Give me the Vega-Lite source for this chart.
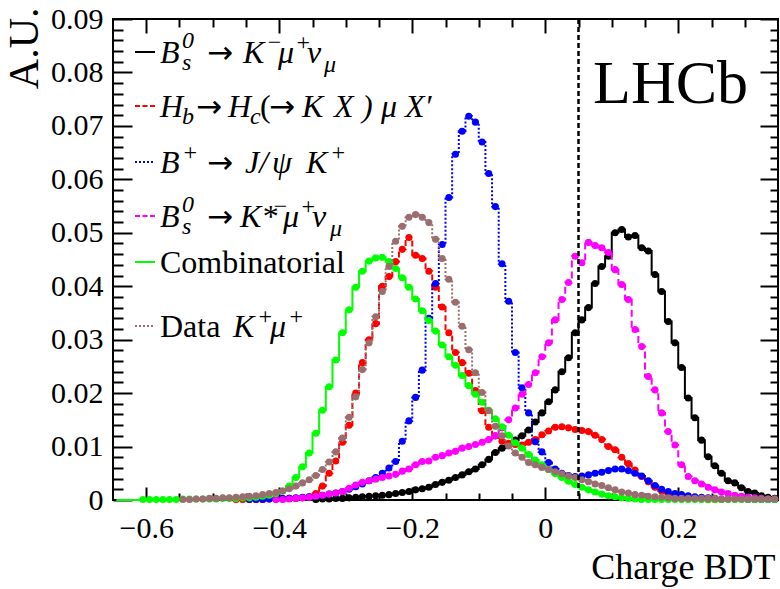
{
  "$schema": "https://vega.github.io/schema/vega-lite/v6.json",
  "width": 665,
  "height": 481,
  "autosize": {"type": "none"},
  "padding": {"left": 113, "top": 19, "right": 2, "bottom": 89},
  "background": "white",
  "config": {
    "view": {"stroke": "#000000", "strokeWidth": 2},
    "style": {
      "lg": {"font": "Liberation Serif", "fontSize": 32, "fontStyle": "italic", "align": "left", "baseline": "alphabetic", "fill": "#000000"},
      "lgs": {"font": "Liberation Serif", "fontSize": 24, "fontStyle": "italic", "align": "left", "baseline": "alphabetic", "fill": "#000000"},
      "arr": {"font": "DejaVu Sans", "fontSize": 31, "fontStyle": "normal", "align": "left", "baseline": "alphabetic", "fill": "#000000"}
    }
  },
  "data": {"values": [{}]},
  "datasets": {
    "sig": [
      {"bdt": -0.345, "au": 0.0001}, {"bdt": -0.335, "au": 0.0002}, {"bdt": -0.325, "au": 0.0002}, {"bdt": -0.315, "au": 0.0003},
      {"bdt": -0.305, "au": 0.0003}, {"bdt": -0.295, "au": 0.0004}, {"bdt": -0.285, "au": 0.0005}, {"bdt": -0.275, "au": 0.0006},
      {"bdt": -0.265, "au": 0.0007}, {"bdt": -0.255, "au": 0.0008}, {"bdt": -0.245, "au": 0.0009}, {"bdt": -0.235, "au": 0.0010},
      {"bdt": -0.225, "au": 0.0012}, {"bdt": -0.215, "au": 0.0014}, {"bdt": -0.205, "au": 0.0016}, {"bdt": -0.195, "au": 0.0019},
      {"bdt": -0.185, "au": 0.0021}, {"bdt": -0.175, "au": 0.0024}, {"bdt": -0.165, "au": 0.0029}, {"bdt": -0.155, "au": 0.0033},
      {"bdt": -0.145, "au": 0.0037}, {"bdt": -0.135, "au": 0.0042}, {"bdt": -0.125, "au": 0.0047}, {"bdt": -0.115, "au": 0.0053},
      {"bdt": -0.105, "au": 0.0058}, {"bdt": -0.095, "au": 0.0066}, {"bdt": -0.085, "au": 0.0076}, {"bdt": -0.075, "au": 0.0089},
      {"bdt": -0.065, "au": 0.0097}, {"bdt": -0.055, "au": 0.0103}, {"bdt": -0.045, "au": 0.0112}, {"bdt": -0.035, "au": 0.0120},
      {"bdt": -0.025, "au": 0.0131}, {"bdt": -0.015, "au": 0.0146}, {"bdt": -0.005, "au": 0.0163}, {"bdt": 0.005, "au": 0.0184},
      {"bdt": 0.015, "au": 0.0206}, {"bdt": 0.025, "au": 0.0240}, {"bdt": 0.035, "au": 0.0266}, {"bdt": 0.045, "au": 0.0313},
      {"bdt": 0.055, "au": 0.0337}, {"bdt": 0.065, "au": 0.0360}, {"bdt": 0.075, "au": 0.0405}, {"bdt": 0.085, "au": 0.0437},
      {"bdt": 0.095, "au": 0.0456}, {"bdt": 0.105, "au": 0.0500}, {"bdt": 0.115, "au": 0.0506}, {"bdt": 0.125, "au": 0.0492},
      {"bdt": 0.135, "au": 0.0495}, {"bdt": 0.145, "au": 0.0472}, {"bdt": 0.155, "au": 0.0466}, {"bdt": 0.165, "au": 0.0422},
      {"bdt": 0.175, "au": 0.0390}, {"bdt": 0.185, "au": 0.0334}, {"bdt": 0.195, "au": 0.0294}, {"bdt": 0.205, "au": 0.0248},
      {"bdt": 0.215, "au": 0.0191}, {"bdt": 0.225, "au": 0.0154}, {"bdt": 0.235, "au": 0.0112}, {"bdt": 0.245, "au": 0.0081},
      {"bdt": 0.255, "au": 0.0064}, {"bdt": 0.265, "au": 0.0050}, {"bdt": 0.275, "au": 0.0036}, {"bdt": 0.285, "au": 0.0032},
      {"bdt": 0.295, "au": 0.0023}, {"bdt": 0.305, "au": 0.0016}, {"bdt": 0.315, "au": 0.0013}, {"bdt": 0.325, "au": 0.0008},
      {"bdt": 0.335, "au": 0.0005}, {"bdt": 0.345, "au": 0.0003}
    ],
    "hb": [
      {"bdt": -0.465, "au": 0.0001}, {"bdt": -0.455, "au": 0.0001}, {"bdt": -0.445, "au": 0.0001}, {"bdt": -0.435, "au": 0.0001},
      {"bdt": -0.425, "au": 0.0001}, {"bdt": -0.415, "au": 0.0002}, {"bdt": -0.405, "au": 0.0002}, {"bdt": -0.395, "au": 0.0002},
      {"bdt": -0.385, "au": 0.0003}, {"bdt": -0.375, "au": 0.0003}, {"bdt": -0.365, "au": 0.0004}, {"bdt": -0.355, "au": 0.0006},
      {"bdt": -0.345, "au": 0.0012}, {"bdt": -0.335, "au": 0.0026}, {"bdt": -0.325, "au": 0.0050}, {"bdt": -0.315, "au": 0.0073},
      {"bdt": -0.305, "au": 0.0108}, {"bdt": -0.295, "au": 0.0140}, {"bdt": -0.285, "au": 0.0200}, {"bdt": -0.275, "au": 0.0257},
      {"bdt": -0.265, "au": 0.0300}, {"bdt": -0.255, "au": 0.0330}, {"bdt": -0.245, "au": 0.0400}, {"bdt": -0.235, "au": 0.0418},
      {"bdt": -0.225, "au": 0.0446}, {"bdt": -0.215, "au": 0.0469}, {"bdt": -0.205, "au": 0.0491}, {"bdt": -0.195, "au": 0.0458},
      {"bdt": -0.185, "au": 0.0452}, {"bdt": -0.175, "au": 0.0428}, {"bdt": -0.165, "au": 0.0398}, {"bdt": -0.155, "au": 0.0361},
      {"bdt": -0.145, "au": 0.0313}, {"bdt": -0.135, "au": 0.0276}, {"bdt": -0.125, "au": 0.0257}, {"bdt": -0.115, "au": 0.0237},
      {"bdt": -0.105, "au": 0.0205}, {"bdt": -0.095, "au": 0.0167}, {"bdt": -0.085, "au": 0.0136}, {"bdt": -0.075, "au": 0.0120},
      {"bdt": -0.065, "au": 0.0110}, {"bdt": -0.055, "au": 0.0106}, {"bdt": -0.045, "au": 0.0104}, {"bdt": -0.035, "au": 0.0103},
      {"bdt": -0.025, "au": 0.0108}, {"bdt": -0.015, "au": 0.0113}, {"bdt": -0.005, "au": 0.0122}, {"bdt": 0.005, "au": 0.0129},
      {"bdt": 0.015, "au": 0.0136}, {"bdt": 0.025, "au": 0.0137}, {"bdt": 0.035, "au": 0.0135}, {"bdt": 0.045, "au": 0.0132},
      {"bdt": 0.055, "au": 0.0130}, {"bdt": 0.065, "au": 0.0128}, {"bdt": 0.075, "au": 0.0121}, {"bdt": 0.085, "au": 0.0113},
      {"bdt": 0.095, "au": 0.0100}, {"bdt": 0.105, "au": 0.0094}, {"bdt": 0.115, "au": 0.0080}, {"bdt": 0.125, "au": 0.0068},
      {"bdt": 0.135, "au": 0.0056}, {"bdt": 0.145, "au": 0.0044}, {"bdt": 0.155, "au": 0.0034}, {"bdt": 0.165, "au": 0.0024},
      {"bdt": 0.175, "au": 0.0017}, {"bdt": 0.185, "au": 0.0012}, {"bdt": 0.195, "au": 0.0009}, {"bdt": 0.205, "au": 0.0006},
      {"bdt": 0.215, "au": 0.0004}, {"bdt": 0.225, "au": 0.0003}, {"bdt": 0.235, "au": 0.0002}, {"bdt": 0.245, "au": 0.0001},
      {"bdt": 0.255, "au": 0.0001}, {"bdt": 0.265, "au": 0.0001}
    ],
    "jpsi": [
      {"bdt": -0.445, "au": 0.0001}, {"bdt": -0.435, "au": 0.0001}, {"bdt": -0.425, "au": 0.0001}, {"bdt": -0.415, "au": 0.0002},
      {"bdt": -0.405, "au": 0.0002}, {"bdt": -0.395, "au": 0.0003}, {"bdt": -0.385, "au": 0.0003}, {"bdt": -0.375, "au": 0.0004},
      {"bdt": -0.365, "au": 0.0005}, {"bdt": -0.355, "au": 0.0006}, {"bdt": -0.345, "au": 0.0007}, {"bdt": -0.335, "au": 0.0009},
      {"bdt": -0.325, "au": 0.0011}, {"bdt": -0.315, "au": 0.0013}, {"bdt": -0.305, "au": 0.0016}, {"bdt": -0.295, "au": 0.0020},
      {"bdt": -0.285, "au": 0.0025}, {"bdt": -0.275, "au": 0.0030}, {"bdt": -0.265, "au": 0.0036}, {"bdt": -0.255, "au": 0.0042},
      {"bdt": -0.245, "au": 0.0050}, {"bdt": -0.235, "au": 0.0060}, {"bdt": -0.225, "au": 0.0072}, {"bdt": -0.215, "au": 0.0110},
      {"bdt": -0.205, "au": 0.0148}, {"bdt": -0.195, "au": 0.0192}, {"bdt": -0.185, "au": 0.0243}, {"bdt": -0.175, "au": 0.0340},
      {"bdt": -0.165, "au": 0.0405}, {"bdt": -0.155, "au": 0.0478}, {"bdt": -0.145, "au": 0.0566}, {"bdt": -0.135, "au": 0.0647},
      {"bdt": -0.125, "au": 0.0690}, {"bdt": -0.115, "au": 0.0718}, {"bdt": -0.105, "au": 0.0707}, {"bdt": -0.095, "au": 0.0670},
      {"bdt": -0.085, "au": 0.0611}, {"bdt": -0.075, "au": 0.0549}, {"bdt": -0.065, "au": 0.0442}, {"bdt": -0.055, "au": 0.0372},
      {"bdt": -0.045, "au": 0.0276}, {"bdt": -0.035, "au": 0.0210}, {"bdt": -0.025, "au": 0.0163}, {"bdt": -0.015, "au": 0.0109},
      {"bdt": -0.005, "au": 0.0090}, {"bdt": 0.005, "au": 0.0070}, {"bdt": 0.015, "au": 0.0058}, {"bdt": 0.025, "au": 0.0050},
      {"bdt": 0.035, "au": 0.0046}, {"bdt": 0.045, "au": 0.0044}, {"bdt": 0.055, "au": 0.0045}, {"bdt": 0.065, "au": 0.0047},
      {"bdt": 0.075, "au": 0.0050}, {"bdt": 0.085, "au": 0.0052}, {"bdt": 0.095, "au": 0.0055}, {"bdt": 0.105, "au": 0.0058},
      {"bdt": 0.115, "au": 0.0058}, {"bdt": 0.125, "au": 0.0055}, {"bdt": 0.135, "au": 0.0050}, {"bdt": 0.145, "au": 0.0045},
      {"bdt": 0.155, "au": 0.0036}, {"bdt": 0.165, "au": 0.0027}, {"bdt": 0.175, "au": 0.0020}, {"bdt": 0.185, "au": 0.0016},
      {"bdt": 0.195, "au": 0.0012}, {"bdt": 0.205, "au": 0.0010}, {"bdt": 0.215, "au": 0.0008}, {"bdt": 0.225, "au": 0.0006},
      {"bdt": 0.235, "au": 0.0005}, {"bdt": 0.245, "au": 0.0004}, {"bdt": 0.255, "au": 0.0003}, {"bdt": 0.265, "au": 0.0002},
      {"bdt": 0.275, "au": 0.0002}, {"bdt": 0.285, "au": 0.0002}, {"bdt": 0.295, "au": 0.0002}, {"bdt": 0.305, "au": 0.0001},
      {"bdt": 0.315, "au": 0.0001}, {"bdt": 0.325, "au": 0.0001}, {"bdt": 0.335, "au": 0.0001}, {"bdt": 0.345, "au": 0.0001}
    ],
    "kst": [
      {"bdt": -0.405, "au": 0.0001}, {"bdt": -0.395, "au": 0.0001}, {"bdt": -0.385, "au": 0.0002}, {"bdt": -0.375, "au": 0.0003},
      {"bdt": -0.365, "au": 0.0004}, {"bdt": -0.355, "au": 0.0005}, {"bdt": -0.345, "au": 0.0007}, {"bdt": -0.335, "au": 0.0009},
      {"bdt": -0.325, "au": 0.0011}, {"bdt": -0.315, "au": 0.0013}, {"bdt": -0.305, "au": 0.0016}, {"bdt": -0.295, "au": 0.0022},
      {"bdt": -0.285, "au": 0.0028}, {"bdt": -0.275, "au": 0.0033}, {"bdt": -0.265, "au": 0.0036}, {"bdt": -0.255, "au": 0.0039},
      {"bdt": -0.245, "au": 0.0042}, {"bdt": -0.235, "au": 0.0045}, {"bdt": -0.225, "au": 0.0048}, {"bdt": -0.215, "au": 0.0054},
      {"bdt": -0.205, "au": 0.0058}, {"bdt": -0.195, "au": 0.0066}, {"bdt": -0.185, "au": 0.0072}, {"bdt": -0.175, "au": 0.0073},
      {"bdt": -0.165, "au": 0.0080}, {"bdt": -0.155, "au": 0.0083}, {"bdt": -0.145, "au": 0.0088}, {"bdt": -0.135, "au": 0.0091},
      {"bdt": -0.125, "au": 0.0097}, {"bdt": -0.115, "au": 0.0100}, {"bdt": -0.105, "au": 0.0104}, {"bdt": -0.095, "au": 0.0108},
      {"bdt": -0.085, "au": 0.0113}, {"bdt": -0.075, "au": 0.0120}, {"bdt": -0.065, "au": 0.0135}, {"bdt": -0.055, "au": 0.0150},
      {"bdt": -0.045, "au": 0.0172}, {"bdt": -0.035, "au": 0.0198}, {"bdt": -0.025, "au": 0.0216}, {"bdt": -0.015, "au": 0.0238},
      {"bdt": -0.005, "au": 0.0268}, {"bdt": 0.005, "au": 0.0294}, {"bdt": 0.015, "au": 0.0337}, {"bdt": 0.025, "au": 0.0375},
      {"bdt": 0.035, "au": 0.0407}, {"bdt": 0.045, "au": 0.0456}, {"bdt": 0.055, "au": 0.0444}, {"bdt": 0.065, "au": 0.0482},
      {"bdt": 0.075, "au": 0.0476}, {"bdt": 0.085, "au": 0.0472}, {"bdt": 0.095, "au": 0.0463}, {"bdt": 0.105, "au": 0.0431},
      {"bdt": 0.115, "au": 0.0403}, {"bdt": 0.125, "au": 0.0375}, {"bdt": 0.135, "au": 0.0319}, {"bdt": 0.145, "au": 0.0287},
      {"bdt": 0.155, "au": 0.0231}, {"bdt": 0.165, "au": 0.0206}, {"bdt": 0.175, "au": 0.0163}, {"bdt": 0.185, "au": 0.0128},
      {"bdt": 0.195, "au": 0.0103}, {"bdt": 0.205, "au": 0.0066}, {"bdt": 0.215, "au": 0.0044}, {"bdt": 0.225, "au": 0.0036},
      {"bdt": 0.235, "au": 0.0030}, {"bdt": 0.245, "au": 0.0024}, {"bdt": 0.255, "au": 0.0019}, {"bdt": 0.265, "au": 0.0015},
      {"bdt": 0.275, "au": 0.0012}, {"bdt": 0.285, "au": 0.0009}, {"bdt": 0.295, "au": 0.0007}, {"bdt": 0.305, "au": 0.0005},
      {"bdt": 0.315, "au": 0.0004}, {"bdt": 0.325, "au": 0.0003}, {"bdt": 0.335, "au": 0.0002}, {"bdt": 0.345, "au": 0.0002}
    ],
    "comb": [
      {"bdt": -0.645, "au": 0}, {"bdt": -0.635, "au": 0}, {"bdt": -0.625, "au": 0}, {"bdt": -0.615, "au": 0},
      {"bdt": -0.605, "au": 0.0001}, {"bdt": -0.595, "au": 0.0001}, {"bdt": -0.585, "au": 0.0001}, {"bdt": -0.575, "au": 0.0001},
      {"bdt": -0.565, "au": 0.0001}, {"bdt": -0.555, "au": 0.0001}, {"bdt": -0.545, "au": 0.0002}, {"bdt": -0.535, "au": 0.0002},
      {"bdt": -0.525, "au": 0.0002}, {"bdt": -0.515, "au": 0.0002}, {"bdt": -0.505, "au": 0.0002}, {"bdt": -0.495, "au": 0.0002},
      {"bdt": -0.485, "au": 0.0003}, {"bdt": -0.475, "au": 0.0003}, {"bdt": -0.465, "au": 0.0003}, {"bdt": -0.455, "au": 0.0004},
      {"bdt": -0.445, "au": 0.0004}, {"bdt": -0.435, "au": 0.0005}, {"bdt": -0.425, "au": 0.0007}, {"bdt": -0.415, "au": 0.0009},
      {"bdt": -0.405, "au": 0.0012}, {"bdt": -0.395, "au": 0.0017}, {"bdt": -0.385, "au": 0.0026}, {"bdt": -0.375, "au": 0.0042},
      {"bdt": -0.365, "au": 0.0062}, {"bdt": -0.355, "au": 0.0088}, {"bdt": -0.345, "au": 0.0125}, {"bdt": -0.335, "au": 0.0168},
      {"bdt": -0.325, "au": 0.0212}, {"bdt": -0.315, "au": 0.0262}, {"bdt": -0.305, "au": 0.0313}, {"bdt": -0.295, "au": 0.0356},
      {"bdt": -0.285, "au": 0.0398}, {"bdt": -0.275, "au": 0.0428}, {"bdt": -0.265, "au": 0.0447}, {"bdt": -0.255, "au": 0.0453},
      {"bdt": -0.245, "au": 0.0454}, {"bdt": -0.235, "au": 0.0446}, {"bdt": -0.225, "au": 0.0433}, {"bdt": -0.215, "au": 0.0416},
      {"bdt": -0.205, "au": 0.0398}, {"bdt": -0.195, "au": 0.0376}, {"bdt": -0.185, "au": 0.0354}, {"bdt": -0.175, "au": 0.0336},
      {"bdt": -0.165, "au": 0.0316}, {"bdt": -0.155, "au": 0.0290}, {"bdt": -0.145, "au": 0.0268}, {"bdt": -0.135, "au": 0.0252},
      {"bdt": -0.125, "au": 0.0233}, {"bdt": -0.115, "au": 0.0214}, {"bdt": -0.105, "au": 0.0198}, {"bdt": -0.095, "au": 0.0183},
      {"bdt": -0.085, "au": 0.0168}, {"bdt": -0.075, "au": 0.0152}, {"bdt": -0.065, "au": 0.0137}, {"bdt": -0.055, "au": 0.0121},
      {"bdt": -0.045, "au": 0.0107}, {"bdt": -0.035, "au": 0.0097}, {"bdt": -0.025, "au": 0.0085}, {"bdt": -0.015, "au": 0.0075},
      {"bdt": -0.005, "au": 0.0066}, {"bdt": 0.005, "au": 0.0057}, {"bdt": 0.015, "au": 0.0049}, {"bdt": 0.025, "au": 0.0042},
      {"bdt": 0.035, "au": 0.0035}, {"bdt": 0.045, "au": 0.0029}, {"bdt": 0.055, "au": 0.0024}, {"bdt": 0.065, "au": 0.0019},
      {"bdt": 0.075, "au": 0.0015}, {"bdt": 0.085, "au": 0.0011}, {"bdt": 0.095, "au": 0.0008}, {"bdt": 0.105, "au": 0.0006},
      {"bdt": 0.115, "au": 0.0004}, {"bdt": 0.125, "au": 0.0003}, {"bdt": 0.135, "au": 0.0002}, {"bdt": 0.145, "au": 0.0001},
      {"bdt": 0.155, "au": 0.0001}, {"bdt": 0.165, "au": 0.0001}, {"bdt": 0.175, "au": 0.0001}, {"bdt": 0.185, "au": 0.0001},
      {"bdt": 0.195, "au": 0.0001}, {"bdt": 0.205, "au": 0.0001}, {"bdt": 0.215, "au": 0.0001}, {"bdt": 0.225, "au": 0.0001},
      {"bdt": 0.235, "au": 0.0001}, {"bdt": 0.245, "au": 0.0001}, {"bdt": 0.255, "au": 0.0001}, {"bdt": 0.265, "au": 0.0001},
      {"bdt": 0.275, "au": 0.0001}, {"bdt": 0.285, "au": 0.0001}, {"bdt": 0.295, "au": 0.0001}, {"bdt": 0.305, "au": 0.0001},
      {"bdt": 0.315, "au": 0.0001}, {"bdt": 0.325, "au": 0.0001}, {"bdt": 0.335, "au": 0.0001}, {"bdt": 0.345, "au": 0.0001}
    ],
    "kmu": [
      {"bdt": -0.545, "au": 0.0001}, {"bdt": -0.535, "au": 0.0001}, {"bdt": -0.525, "au": 0.0002}, {"bdt": -0.515, "au": 0.0002},
      {"bdt": -0.505, "au": 0.0003}, {"bdt": -0.495, "au": 0.0003}, {"bdt": -0.485, "au": 0.0004}, {"bdt": -0.475, "au": 0.0004},
      {"bdt": -0.465, "au": 0.0005}, {"bdt": -0.455, "au": 0.0006}, {"bdt": -0.445, "au": 0.0007}, {"bdt": -0.435, "au": 0.0008},
      {"bdt": -0.425, "au": 0.0010}, {"bdt": -0.415, "au": 0.0012}, {"bdt": -0.405, "au": 0.0014}, {"bdt": -0.395, "au": 0.0017},
      {"bdt": -0.385, "au": 0.0021}, {"bdt": -0.375, "au": 0.0026}, {"bdt": -0.365, "au": 0.0032}, {"bdt": -0.355, "au": 0.0038},
      {"bdt": -0.345, "au": 0.0046}, {"bdt": -0.335, "au": 0.0057}, {"bdt": -0.325, "au": 0.0071}, {"bdt": -0.315, "au": 0.0090},
      {"bdt": -0.305, "au": 0.0116}, {"bdt": -0.295, "au": 0.0155}, {"bdt": -0.285, "au": 0.0193}, {"bdt": -0.275, "au": 0.0244},
      {"bdt": -0.265, "au": 0.0294}, {"bdt": -0.255, "au": 0.0343}, {"bdt": -0.245, "au": 0.0390}, {"bdt": -0.235, "au": 0.0437},
      {"bdt": -0.225, "au": 0.0484}, {"bdt": -0.215, "au": 0.0512}, {"bdt": -0.205, "au": 0.0529}, {"bdt": -0.195, "au": 0.0534},
      {"bdt": -0.185, "au": 0.0529}, {"bdt": -0.175, "au": 0.0519}, {"bdt": -0.165, "au": 0.0488}, {"bdt": -0.155, "au": 0.0452},
      {"bdt": -0.145, "au": 0.0413}, {"bdt": -0.135, "au": 0.0370}, {"bdt": -0.125, "au": 0.0325}, {"bdt": -0.115, "au": 0.0281},
      {"bdt": -0.105, "au": 0.0238}, {"bdt": -0.095, "au": 0.0201}, {"bdt": -0.085, "au": 0.0167}, {"bdt": -0.075, "au": 0.0138},
      {"bdt": -0.065, "au": 0.0120}, {"bdt": -0.055, "au": 0.0101}, {"bdt": -0.045, "au": 0.0088}, {"bdt": -0.035, "au": 0.0080},
      {"bdt": -0.025, "au": 0.0070}, {"bdt": -0.015, "au": 0.0066}, {"bdt": -0.005, "au": 0.0061}, {"bdt": 0.005, "au": 0.0057},
      {"bdt": 0.015, "au": 0.0053}, {"bdt": 0.025, "au": 0.0049}, {"bdt": 0.035, "au": 0.0045}, {"bdt": 0.045, "au": 0.0042},
      {"bdt": 0.055, "au": 0.0038}, {"bdt": 0.065, "au": 0.0034}, {"bdt": 0.075, "au": 0.0030}, {"bdt": 0.085, "au": 0.0027},
      {"bdt": 0.095, "au": 0.0023}, {"bdt": 0.105, "au": 0.0019}, {"bdt": 0.115, "au": 0.0015}, {"bdt": 0.125, "au": 0.0013},
      {"bdt": 0.135, "au": 0.0010}, {"bdt": 0.145, "au": 0.0009}, {"bdt": 0.155, "au": 0.0007}, {"bdt": 0.165, "au": 0.0006},
      {"bdt": 0.175, "au": 0.0005}, {"bdt": 0.185, "au": 0.0004}, {"bdt": 0.195, "au": 0.0003}, {"bdt": 0.205, "au": 0.0003},
      {"bdt": 0.215, "au": 0.0003}, {"bdt": 0.225, "au": 0.0003}, {"bdt": 0.235, "au": 0.0003}, {"bdt": 0.245, "au": 0.0003},
      {"bdt": 0.255, "au": 0.0003}, {"bdt": 0.265, "au": 0.0002}, {"bdt": 0.275, "au": 0.0002}, {"bdt": 0.285, "au": 0.0002},
      {"bdt": 0.295, "au": 0.0002}, {"bdt": 0.305, "au": 0.0002}, {"bdt": 0.315, "au": 0.0002}, {"bdt": 0.325, "au": 0.0002},
      {"bdt": 0.335, "au": 0.0002}, {"bdt": 0.345, "au": 0.0002}
    ]
  },
  "resolve": {"axis": {"x": "independent", "y": "independent"}},
  "layer": [
    {
      "data": {"name": "sig"},
      "mark": {"type": "line", "interpolate": "step", "color": "#000000", "strokeWidth": 2},
      "encoding": {
        "x": {"field": "bdt", "type": "quantitative", "scale": {"domain": [-0.65, 0.35], "nice": false, "zero": false},
          "axis": {"orient": "bottom", "values": [-0.6, -0.4, -0.2, 0, 0.2], "format": ".1~f", "tickSize": -13, "tickWidth": 2, "tickColor": "#000000",
            "domain": false, "grid": false, "labelFont": "Liberation Serif", "labelFontSize": 30, "labelColor": "#000000", "labelPadding": 26,
            "labelFlush": false, "labelOverlap": false, "title": "Charge BDT", "titleFont": "Liberation Serif", "titleFontSize": 36,
            "titleFontWeight": "normal", "titleColor": "#000000", "titleAlign": "right", "titleBaseline": "alphabetic", "titleX": 662, "titleY": 78}},
        "y": {"field": "au", "type": "quantitative", "scale": {"domain": [0, 0.09], "nice": false},
          "axis": {"orient": "left", "values": [0, 0.01, 0.02, 0.03, 0.04, 0.05, 0.06, 0.07, 0.08, 0.09], "format": ".2~f", "tickSize": -19, "tickWidth": 2,
            "tickColor": "#000000", "domain": false, "grid": false, "labelFont": "Liberation Serif", "labelFontSize": 30, "labelColor": "#000000",
            "labelPadding": 29, "labelFlush": false, "labelOverlap": false, "title": "A.U.", "titleFont": "Liberation Serif", "titleFontSize": 42,
            "titleFontWeight": "normal", "titleColor": "#000000", "titleAngle": -90, "titleAlign": "right", "titleBaseline": "alphabetic",
            "titleX": -76, "titleY": -12}}
      }
    },
    {
      "data": {"name": "sig"},
      "mark": {"type": "point", "filled": true, "size": 50, "color": "#000000", "opacity": 1},
      "encoding": {
        "x": {"field": "bdt", "type": "quantitative", "scale": {"domain": [-0.65, 0.35], "nice": false, "zero": false},
          "axis": {"orient": "bottom", "values": [-0.55, -0.5, -0.45, -0.35, -0.3, -0.25, -0.15, -0.1, -0.05, 0.05, 0.1, 0.15, 0.25, 0.3],
            "tickSize": -7, "tickWidth": 2, "tickColor": "#000000", "labels": false, "domain": false, "grid": false, "title": null}},
        "y": {"field": "au", "type": "quantitative", "scale": {"domain": [0, 0.09], "nice": false},
          "axis": {"orient": "left", "values": [0.002, 0.004, 0.006, 0.008, 0.012, 0.014, 0.016, 0.018, 0.022, 0.024, 0.026, 0.028, 0.032, 0.034, 0.036, 0.038, 0.042, 0.044, 0.046, 0.048, 0.052, 0.054, 0.056, 0.058, 0.062, 0.064, 0.066, 0.068, 0.072, 0.074, 0.076, 0.078, 0.082, 0.084, 0.086, 0.088],
            "tickSize": -10, "tickWidth": 2, "tickColor": "#000000", "labels": false, "domain": false, "grid": false, "title": null}}
      }
    },
    {
      "data": {"name": "hb"},
      "mark": {"type": "line", "interpolate": "step", "color": "#ff0000", "strokeWidth": 2, "strokeDash": [6, 3]},
      "encoding": {
        "x": {"field": "bdt", "type": "quantitative", "scale": {"domain": [-0.65, 0.35], "nice": false, "zero": false},
          "axis": {"orient": "top", "values": [-0.6, -0.4, -0.2, 0, 0.2], "tickSize": -14, "tickWidth": 2, "tickColor": "#000000",
            "labels": false, "domain": false, "grid": false, "title": null}},
        "y": {"field": "au", "type": "quantitative", "scale": {"domain": [0, 0.09], "nice": false},
          "axis": {"orient": "right", "values": [0, 0.01, 0.02, 0.03, 0.04, 0.05, 0.06, 0.07, 0.08, 0.09], "tickSize": -18, "tickWidth": 2,
            "tickColor": "#000000", "labels": false, "domain": false, "grid": false, "title": null}}
      }
    },
    {
      "data": {"name": "hb"},
      "mark": {"type": "point", "filled": true, "size": 50, "color": "#ff0000", "opacity": 1},
      "encoding": {
        "x": {"field": "bdt", "type": "quantitative", "scale": {"domain": [-0.65, 0.35], "nice": false, "zero": false},
          "axis": {"orient": "top", "values": [-0.55, -0.5, -0.45, -0.35, -0.3, -0.25, -0.15, -0.1, -0.05, 0.05, 0.1, 0.15, 0.25, 0.3],
            "tickSize": -8, "tickWidth": 2, "tickColor": "#000000", "labels": false, "domain": false, "grid": false, "title": null}},
        "y": {"field": "au", "type": "quantitative", "scale": {"domain": [0, 0.09], "nice": false},
          "axis": {"orient": "right", "values": [0.002, 0.004, 0.006, 0.008, 0.012, 0.014, 0.016, 0.018, 0.022, 0.024, 0.026, 0.028, 0.032, 0.034, 0.036, 0.038, 0.042, 0.044, 0.046, 0.048, 0.052, 0.054, 0.056, 0.058, 0.062, 0.064, 0.066, 0.068, 0.072, 0.074, 0.076, 0.078, 0.082, 0.084, 0.086, 0.088],
            "tickSize": -8, "tickWidth": 2, "tickColor": "#000000", "labels": false, "domain": false, "grid": false, "title": null}}
      }
    },
    {
      "data": {"name": "jpsi"},
      "mark": {"type": "line", "interpolate": "step", "color": "#0000ff", "strokeWidth": 2, "strokeDash": [2, 2]},
      "encoding": {
        "x": {"field": "bdt", "type": "quantitative", "scale": {"domain": [-0.65, 0.35], "nice": false, "zero": false}, "axis": null},
        "y": {"field": "au", "type": "quantitative", "scale": {"domain": [0, 0.09], "nice": false}, "axis": null}
      }
    },
    {
      "data": {"name": "jpsi"},
      "mark": {"type": "point", "filled": true, "size": 50, "color": "#0000ff", "opacity": 1},
      "encoding": {
        "x": {"field": "bdt", "type": "quantitative", "scale": {"domain": [-0.65, 0.35], "nice": false, "zero": false}, "axis": null},
        "y": {"field": "au", "type": "quantitative", "scale": {"domain": [0, 0.09], "nice": false}, "axis": null}
      }
    },
    {
      "data": {"name": "kst"},
      "mark": {"type": "line", "interpolate": "step", "color": "#ff00ff", "strokeWidth": 2, "strokeDash": [7, 4]},
      "encoding": {
        "x": {"field": "bdt", "type": "quantitative", "scale": {"domain": [-0.65, 0.35], "nice": false, "zero": false}, "axis": null},
        "y": {"field": "au", "type": "quantitative", "scale": {"domain": [0, 0.09], "nice": false}, "axis": null}
      }
    },
    {
      "data": {"name": "kst"},
      "mark": {"type": "point", "filled": true, "size": 50, "color": "#ff00ff", "opacity": 1},
      "encoding": {
        "x": {"field": "bdt", "type": "quantitative", "scale": {"domain": [-0.65, 0.35], "nice": false, "zero": false}, "axis": null},
        "y": {"field": "au", "type": "quantitative", "scale": {"domain": [0, 0.09], "nice": false}, "axis": null}
      }
    },
    {
      "data": {"name": "comb"},
      "mark": {"type": "line", "interpolate": "step", "color": "#00ff00", "strokeWidth": 2},
      "encoding": {
        "x": {"field": "bdt", "type": "quantitative", "scale": {"domain": [-0.65, 0.35], "nice": false, "zero": false}, "axis": null},
        "y": {"field": "au", "type": "quantitative", "scale": {"domain": [0, 0.09], "nice": false}, "axis": null}
      }
    },
    {
      "data": {"name": "comb"},
      "transform": [{"filter": "datum.au > 0"}],
      "mark": {"type": "point", "filled": true, "size": 50, "color": "#00ff00", "opacity": 1},
      "encoding": {
        "x": {"field": "bdt", "type": "quantitative", "scale": {"domain": [-0.65, 0.35], "nice": false, "zero": false}, "axis": null},
        "y": {"field": "au", "type": "quantitative", "scale": {"domain": [0, 0.09], "nice": false}, "axis": null}
      }
    },
    {
      "data": {"name": "kmu"},
      "mark": {"type": "line", "interpolate": "step", "color": "#9a6e6e", "strokeWidth": 2, "strokeDash": [2, 2]},
      "encoding": {
        "x": {"field": "bdt", "type": "quantitative", "scale": {"domain": [-0.65, 0.35], "nice": false, "zero": false}, "axis": null},
        "y": {"field": "au", "type": "quantitative", "scale": {"domain": [0, 0.09], "nice": false}, "axis": null}
      }
    },
    {
      "data": {"name": "kmu"},
      "mark": {"type": "point", "filled": true, "size": 50, "color": "#9a6e6e", "opacity": 1},
      "encoding": {
        "x": {"field": "bdt", "type": "quantitative", "scale": {"domain": [-0.65, 0.35], "nice": false, "zero": false}, "axis": null},
        "y": {"field": "au", "type": "quantitative", "scale": {"domain": [0, 0.09], "nice": false}, "axis": null}
      }
    },
    {
      "mark": {"type": "rule", "color": "#000000", "strokeWidth": 2.5, "strokeDash": [5, 3]},
      "encoding": {"x": {"datum": 0.05, "type": "quantitative", "axis": null}}
    },
    {
      "mark": {"type": "text", "text": "LHCb", "font": "Liberation Serif", "fontSize": 62, "align": "right", "baseline": "alphabetic", "fill": "#000000"},
      "encoding": {"x": {"datum": 0.3049, "type": "quantitative", "axis": null}, "y": {"datum": 0.07428, "type": "quantitative", "axis": null}}
    },
    {
      "encoding": {"y": {"datum": 0.081768, "type": "quantitative", "axis": null}},
      "layer": [
        {"mark": {"type": "rule", "color": "#000000", "strokeWidth": 2},
          "encoding": {"x": {"datum": -0.61692, "type": "quantitative", "axis": null}, "x2": {"datum": -0.58684}, "y": {"datum": 0.083826, "type": "quantitative", "axis": null}}},
        {"mark": {"type": "text", "style": "lg", "text": "B"}, "encoding": {"x": {"datum": -0.57932, "type": "quantitative", "axis": null}}},
        {"mark": {"type": "text", "style": "lgs", "text": "0", "dy": -15}, "encoding": {"x": {"datum": -0.54624, "type": "quantitative", "axis": null}}},
        {"mark": {"type": "text", "style": "lgs", "text": "s", "dy": 7}, "encoding": {"x": {"datum": -0.54624, "type": "quantitative", "axis": null}}},
        {"mark": {"type": "text", "style": "arr", "text": "→"}, "encoding": {"x": {"datum": -0.50865, "type": "quantitative", "axis": null}}},
        {"mark": {"type": "text", "style": "lg", "text": "K"}, "encoding": {"x": {"datum": -0.45451, "type": "quantitative", "axis": null}}},
        {"mark": {"type": "text", "style": "lgs", "text": "−", "dy": -13}, "encoding": {"x": {"datum": -0.41992, "type": "quantitative", "axis": null}}},
        {"mark": {"type": "text", "style": "lg", "text": "μ"}, "encoding": {"x": {"datum": -0.40188, "type": "quantitative", "axis": null}}},
        {"mark": {"type": "text", "style": "lgs", "text": "+", "dy": -13}, "encoding": {"x": {"datum": -0.37632, "type": "quantitative", "axis": null}}},
        {"mark": {"type": "text", "style": "lg", "text": "ν"}, "encoding": {"x": {"datum": -0.35827, "type": "quantitative", "axis": null}}},
        {"mark": {"type": "text", "style": "lgs", "text": "μ", "dy": 9}, "encoding": {"x": {"datum": -0.33271, "type": "quantitative", "axis": null}}}
      ]
    },
    {
      "encoding": {"y": {"datum": 0.071664, "type": "quantitative", "axis": null}},
      "layer": [
        {"mark": {"type": "rule", "color": "#ff0000", "strokeWidth": 2, "strokeDash": [5, 2.5]},
          "encoding": {"x": {"datum": -0.61692, "type": "quantitative", "axis": null}, "x2": {"datum": -0.58684}, "y": {"datum": 0.073722, "type": "quantitative", "axis": null}}},
        {"mark": {"type": "text", "style": "lg", "text": "H"}, "encoding": {"x": {"datum": -0.57932, "type": "quantitative", "axis": null}}},
        {"mark": {"type": "text", "style": "lgs", "text": "b", "dy": 7}, "encoding": {"x": {"datum": -0.54624, "type": "quantitative", "axis": null}}},
        {"mark": {"type": "text", "style": "arr", "text": "→"}, "encoding": {"x": {"datum": -0.52519, "type": "quantitative", "axis": null}}},
        {"mark": {"type": "text", "style": "lg", "text": "H"}, "encoding": {"x": {"datum": -0.47707, "type": "quantitative", "axis": null}}},
        {"mark": {"type": "text", "style": "lgs", "text": "c", "dy": 7}, "encoding": {"x": {"datum": -0.44398, "type": "quantitative", "axis": null}}},
        {"mark": {"type": "text", "style": "lg", "text": "(", "fontStyle": "normal"}, "encoding": {"x": {"datum": -0.42895, "type": "quantitative", "axis": null}}},
        {"mark": {"type": "text", "style": "arr", "text": "→"}, "encoding": {"x": {"datum": -0.41541, "type": "quantitative", "axis": null}}},
        {"mark": {"type": "text", "style": "lg", "text": "K"}, "encoding": {"x": {"datum": -0.36579, "type": "quantitative", "axis": null}}},
        {"mark": {"type": "text", "style": "lg", "text": "X"}, "encoding": {"x": {"datum": -0.31767, "type": "quantitative", "axis": null}}},
        {"mark": {"type": "text", "style": "lg", "text": ")"}, "encoding": {"x": {"datum": -0.27556, "type": "quantitative", "axis": null}}},
        {"mark": {"type": "text", "style": "lg", "text": "μ X′"}, "encoding": {"x": {"datum": -0.24699, "type": "quantitative", "axis": null}}}
      ]
    },
    {
      "encoding": {"y": {"datum": 0.061185, "type": "quantitative", "axis": null}},
      "layer": [
        {"mark": {"type": "rule", "color": "#0000ff", "strokeWidth": 2, "strokeDash": [2, 2]},
          "encoding": {"x": {"datum": -0.61692, "type": "quantitative", "axis": null}, "x2": {"datum": -0.58684}, "y": {"datum": 0.063244, "type": "quantitative", "axis": null}}},
        {"mark": {"type": "text", "style": "lg", "text": "B"}, "encoding": {"x": {"datum": -0.57932, "type": "quantitative", "axis": null}}},
        {"mark": {"type": "text", "style": "lgs", "text": "+", "dy": -13}, "encoding": {"x": {"datum": -0.54624, "type": "quantitative", "axis": null}}},
        {"mark": {"type": "text", "style": "arr", "text": "→"}, "encoding": {"x": {"datum": -0.50865, "type": "quantitative", "axis": null}}},
        {"mark": {"type": "text", "style": "lg", "text": "J/"}, "encoding": {"x": {"datum": -0.4515, "type": "quantitative", "axis": null}}},
        {"mark": {"type": "text", "style": "lg", "text": "ψ"}, "encoding": {"x": {"datum": -0.4109, "type": "quantitative", "axis": null}}},
        {"mark": {"type": "text", "style": "lg", "text": "K"}, "encoding": {"x": {"datum": -0.35978, "type": "quantitative", "axis": null}}},
        {"mark": {"type": "text", "style": "lgs", "text": "+", "dy": -13}, "encoding": {"x": {"datum": -0.32368, "type": "quantitative", "axis": null}}}
      ]
    },
    {
      "encoding": {"y": {"datum": 0.051082, "type": "quantitative", "axis": null}},
      "layer": [
        {"mark": {"type": "rule", "color": "#ff00ff", "strokeWidth": 2, "strokeDash": [5, 2.5]},
          "encoding": {"x": {"datum": -0.61692, "type": "quantitative", "axis": null}, "x2": {"datum": -0.58684}, "y": {"datum": 0.05314, "type": "quantitative", "axis": null}}},
        {"mark": {"type": "text", "style": "lg", "text": "B"}, "encoding": {"x": {"datum": -0.57932, "type": "quantitative", "axis": null}}},
        {"mark": {"type": "text", "style": "lgs", "text": "0", "dy": -15}, "encoding": {"x": {"datum": -0.54624, "type": "quantitative", "axis": null}}},
        {"mark": {"type": "text", "style": "lgs", "text": "s", "dy": 7}, "encoding": {"x": {"datum": -0.54624, "type": "quantitative", "axis": null}}},
        {"mark": {"type": "text", "style": "arr", "text": "→"}, "encoding": {"x": {"datum": -0.50865, "type": "quantitative", "axis": null}}},
        {"mark": {"type": "text", "style": "lg", "text": "K*"}, "encoding": {"x": {"datum": -0.45902, "type": "quantitative", "axis": null}}},
        {"mark": {"type": "text", "style": "lgs", "text": "−", "dy": -13}, "encoding": {"x": {"datum": -0.4109, "type": "quantitative", "axis": null}}},
        {"mark": {"type": "text", "style": "lg", "text": "μ"}, "encoding": {"x": {"datum": -0.39436, "type": "quantitative", "axis": null}}},
        {"mark": {"type": "text", "style": "lgs", "text": "+", "dy": -13}, "encoding": {"x": {"datum": -0.3688, "type": "quantitative", "axis": null}}},
        {"mark": {"type": "text", "style": "lg", "text": "ν"}, "encoding": {"x": {"datum": -0.35075, "type": "quantitative", "axis": null}}},
        {"mark": {"type": "text", "style": "lgs", "text": "μ", "dy": 9}, "encoding": {"x": {"datum": -0.32368, "type": "quantitative", "axis": null}}}
      ]
    },
    {
      "encoding": {"y": {"datum": 0.042474, "type": "quantitative", "axis": null}},
      "layer": [
        {"mark": {"type": "rule", "color": "#00ff00", "strokeWidth": 2},
          "encoding": {"x": {"datum": -0.61692, "type": "quantitative", "axis": null}, "x2": {"datum": -0.58684}, "y": {"datum": 0.044533, "type": "quantitative", "axis": null}}},
        {"mark": {"type": "text", "style": "lg", "text": "Combinatorial", "fontStyle": "normal"}, "encoding": {"x": {"datum": -0.57932, "type": "quantitative", "axis": null}}}
      ]
    },
    {
      "encoding": {"y": {"datum": 0.030499, "type": "quantitative", "axis": null}},
      "layer": [
        {"mark": {"type": "rule", "color": "#9a6e6e", "strokeWidth": 2, "strokeDash": [2, 2]},
          "encoding": {"x": {"datum": -0.61692, "type": "quantitative", "axis": null}, "x2": {"datum": -0.58684}, "y": {"datum": 0.032557, "type": "quantitative", "axis": null}}},
        {"mark": {"type": "text", "style": "lg", "text": "Data", "fontStyle": "normal"}, "encoding": {"x": {"datum": -0.57932, "type": "quantitative", "axis": null}}},
        {"mark": {"type": "text", "style": "lg", "text": "K"}, "encoding": {"x": {"datum": -0.46955, "type": "quantitative", "axis": null}}},
        {"mark": {"type": "text", "style": "lgs", "text": "+", "dy": -13}, "encoding": {"x": {"datum": -0.43346, "type": "quantitative", "axis": null}}},
        {"mark": {"type": "text", "style": "lg", "text": "μ"}, "encoding": {"x": {"datum": -0.41391, "type": "quantitative", "axis": null}}},
        {"mark": {"type": "text", "style": "lgs", "text": "+", "dy": -13}, "encoding": {"x": {"datum": -0.38684, "type": "quantitative", "axis": null}}}
      ]
    }
  ]
}
